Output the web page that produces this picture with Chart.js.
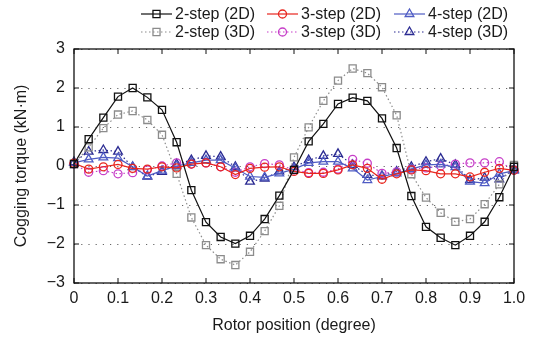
<!doctype html>
<html lang="en">
<head>
<meta charset="UTF-8">
<title>Cogging torque</title>
<style>
  body { margin: 0; background: #fff; }
</style>
</head>
<body>
<canvas id="chart" width="533" height="338"></canvas>
<script src="https://cdn.jsdelivr.net/npm/chart.js@4.4.1/dist/chart.umd.min.js"></script>
<script>
// rotor positions (degree), 31 samples
const positions = [0, 0.0333, 0.0667, 0.1, 0.1333, 0.1667, 0.2, 0.2333, 0.2667, 0.3, 0.3333,
  0.3667, 0.4, 0.4333, 0.4667, 0.5, 0.5333, 0.5667, 0.6, 0.6333, 0.6667,
  0.7, 0.7333, 0.7667, 0.8, 0.8333, 0.8667, 0.9, 0.9333, 0.9667, 1.0];

// cogging torque (kN·m)
const step2_2d = [0.05, 0.69, 1.24, 1.78, 2.0, 1.76, 1.44, 0.61, -0.62, -1.44, -1.82,
  -1.99, -1.79, -1.36, -0.76, -0.1, 0.63, 1.08, 1.59, 1.75, 1.67,
  1.22, 0.46, -0.77, -1.56, -1.84, -2.03, -1.79, -1.43, -0.8, -0.02];
const step2_3d = [0.05, 0.48, 0.97, 1.32, 1.41, 1.18, 0.8, -0.2, -1.32, -2.03, -2.39,
  -2.54, -2.2, -1.67, -1.02, 0.22, 0.99, 1.67, 2.19, 2.5, 2.38,
  2.02, 1.3, -0.21, -0.81, -1.2, -1.43, -1.36, -0.98, -0.47, 0.03];
const step3_2d = [0.07, -0.08, -0.02, 0.04, -0.06, -0.08, -0.02, -0.05, 0.05, 0.08, -0.02,
  -0.22, -0.06, -0.03, -0.02, -0.14, -0.19, -0.19, -0.1, 0.03, -0.06,
  -0.34, -0.2, -0.1, -0.12, -0.2, -0.2, -0.28, -0.16, -0.06, -0.11];
const step3_3d = [0.05, -0.16, -0.12, -0.2, -0.17, -0.1, 0.0, 0.08, 0.05, 0.08, -0.02,
  -0.16, -0.02, 0.06, 0.03, -0.1, -0.17, -0.16, -0.08, 0.17, 0.07,
  -0.19, -0.15, -0.08, -0.05, 0.0, 0.05, 0.08, 0.08, 0.11, -0.1];
const step4_2d = [0.08, 0.17, 0.22, 0.2, -0.02, -0.26, -0.12, 0.0, 0.08, 0.15, 0.15,
  -0.06, -0.27, -0.29, -0.19, -0.08, 0.08, 0.11, 0.11, -0.06, -0.36,
  -0.27, -0.19, -0.08, 0.03, 0.04, -0.03, -0.4, -0.44, -0.2, -0.12];
const step4_3d = [0.1, 0.37, 0.41, 0.37, -0.03, -0.27, -0.15, 0.05, 0.15, 0.26, 0.24,
  -0.02, -0.4, -0.32, -0.14, -0.03, 0.15, 0.26, 0.31, 0.03, -0.23,
  -0.25, -0.14, -0.02, 0.11, 0.19, 0.03, -0.36, -0.3, -0.34, -0.09];

const xTicks = [0, 0.1, 0.2, 0.3, 0.4, 0.5, 0.6, 0.7, 0.8, 0.9, 1.0];
const yTicks = [-3, -2, -1, 0, 1, 2, 3];

function pts(vals) {
  return vals.map((v, i) => ({ x: positions[i], y: v }));
}

function series(label, vals, color, style, radius, dash) {
  return {
    label: label,
    data: pts(vals),
    borderColor: color,
    borderWidth: 1.2,
    borderDash: dash,
    pointStyle: style,
    pointRadius: radius,
    pointBorderColor: color,
    pointBackgroundColor: 'rgba(0,0,0,0)',
    pointBorderWidth: 1.3,
    tension: 0,
    clip: false
  };
}

const dot = [1.5, 2.5];

// legend in two rows of three, drawn on the canvas
const legendPlugin = {
  id: 'mlegend',
  afterDraw(chart) {
    const ctx = chart.ctx;
    const cols = [141, 267, 394];
    const rows = [14, 32];
    ctx.save();
    chart.data.datasets.forEach((ds, i) => {
      const x0 = cols[i % 3], y = rows[Math.floor(i / 3)];
      ctx.strokeStyle = ds.borderColor;
      ctx.lineWidth = ds.borderWidth;
      ctx.setLineDash(ds.borderDash || []);
      ctx.beginPath();
      ctx.moveTo(x0, y);
      ctx.lineTo(x0 + 31, y);
      ctx.stroke();
      ctx.setLineDash([]);
      ctx.fillStyle = 'rgba(0,0,0,0)';
      ctx.lineWidth = ds.pointBorderWidth;
      Chart.helpers.drawPoint(ctx, { pointStyle: ds.pointStyle, radius: ds.pointRadius, rotation: 0, borderWidth: ds.pointBorderWidth }, x0 + 15.5, y);
      ctx.fillStyle = '#1a1a1a';
      ctx.font = '16px "Liberation Sans", Arial, sans-serif';
      ctx.textBaseline = 'middle';
      ctx.textAlign = 'left';
      ctx.fillText(ds.label, x0 + 34, y + 1);
    });
    ctx.restore();
  }
};

// box round the plot with inward tick marks
const framePlugin = {
  id: 'frame',
  afterDatasetsDraw(chart) {
    const { ctx, chartArea: a, scales } = chart;
    ctx.save();
    ctx.strokeStyle = '#111';
    ctx.lineWidth = 1.3;
    ctx.strokeRect(a.left, a.top, a.right - a.left, a.bottom - a.top);
    ctx.lineWidth = 1;
    ctx.beginPath();
    xTicks.forEach(v => {
      const px = scales.x.getPixelForValue(v);
      ctx.moveTo(px, a.bottom); ctx.lineTo(px, a.bottom - 5);
      ctx.moveTo(px, a.top); ctx.lineTo(px, a.top + 5);
    });
    yTicks.forEach(v => {
      const py = scales.y.getPixelForValue(v);
      ctx.moveTo(a.left, py); ctx.lineTo(a.left + 5, py);
      ctx.moveTo(a.right, py); ctx.lineTo(a.right - 5, py);
    });
    ctx.stroke();
    ctx.restore();
  }
};

Chart.defaults.font.family = '"Liberation Sans", Arial, sans-serif';
Chart.defaults.font.size = 16;
Chart.defaults.color = '#1a1a1a';

new Chart(document.getElementById('chart'), {
  type: 'line',
  data: {
    datasets: [
      series('2-step (2D)', step2_2d, '#111111', 'rect', 5, []),
      series('3-step (2D)', step3_2d, '#e8261e', 'circle', 4, []),
      series('4-step (2D)', step4_2d, '#4f5cc4', 'triangle', 5, []),
      series('2-step (3D)', step2_3d, '#8c8c8c', 'rect', 5, dot),
      series('3-step (3D)', step3_3d, '#c63ec8', 'circle', 4, dot),
      series('4-step (3D)', step4_3d, '#2b2b92', 'triangle', 5, dot)
    ]
  },
  options: {
    responsive: false,
    animation: false,
    layout: { padding: { top: 49, right: 19, left: 0, bottom: 0 } },
    plugins: { legend: { display: false }, tooltip: { enabled: false } },
    scales: {
      x: {
        type: 'linear',
        min: 0,
        max: 1,
        afterFit(s) { s.height = 55; },
        afterBuildTicks(s) { s.ticks = xTicks.map(v => ({ value: v })); },
        grid: { display: false, drawTicks: false },
        border: { display: false },
        ticks: {
          autoSkip: false,
          maxRotation: 0,
          padding: 6,
          callback: v => v === 0 ? '0' : v.toFixed(1)
        },
        title: { display: true, text: 'Rotor position (degree)', padding: { top: 0, bottom: 3 } }
      },
      y: {
        min: -3,
        max: 3,
        afterFit(s) { s.width = 74; },
        afterBuildTicks(s) { s.ticks = yTicks.map(v => ({ value: v })); },
        grid: { color: '#666', lineWidth: 1, drawTicks: false },
        border: { display: false, dash: [1.2, 6] },
        ticks: {
          padding: 9,
          callback: v => String(v).replace('-', '\u2212')
        },
        title: { display: true, text: 'Cogging torque (kN\u00b7m)', padding: { top: 12, bottom: 0 } }
      }
    }
  },
  plugins: [legendPlugin, framePlugin]
});
</script>
</body>
</html>
